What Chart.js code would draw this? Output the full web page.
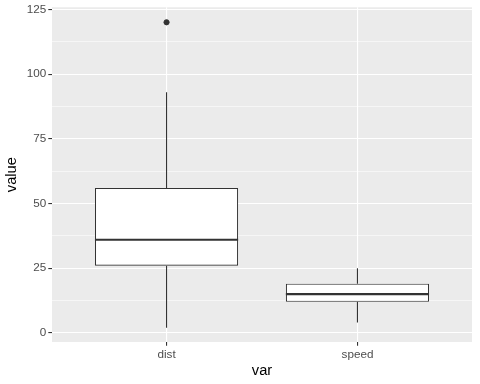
<!DOCTYPE html>
<html><head><meta charset="utf-8">
<script src="https://cdn.jsdelivr.net/npm/chart.js@4/dist/chart.umd.min.js"></script>
<style>html,body{margin:0;padding:0;background:#fff}#c{display:block}</style>
</head><body>
<div style="width:480px;height:384px"><canvas id="c" width="480" height="384"></canvas></div>
<script>
const categories = ['dist', 'speed'];
const lowerWhisker = [2, 4];
const q1 = [26, 12];
const median = [36, 15];
const q3 = [56, 19];
const upperWhisker = [93, 25];
const outliers = [[120], []];
const yTicks = [0, 25, 50, 75, 100, 125];
const yMinor = [12.5, 37.5, 62.5, 87.5, 112.5];

const boxHalf = 0.375;
const pos = categories.map((c, i) => i + 1);

const boxData = pos.map((x, i) => ({x: x, y: [q1[i], q3[i]]}));
const medData = [];
const whiskData = [];
pos.forEach((x, i) => {
  medData.push({x: x - boxHalf, y: median[i]}, {x: x + boxHalf, y: median[i]}, {x: x, y: null});
  whiskData.push({x: x, y: q3[i]}, {x: x, y: upperWhisker[i]}, {x: x, y: null});
  whiskData.push({x: x, y: lowerWhisker[i]}, {x: x, y: q1[i]}, {x: x, y: null});
});
const outData = [];
pos.forEach((x, i) => outliers[i].forEach(v => outData.push({x: x, y: v})));

const allTicks = yTicks.concat(yMinor).sort((a, b) => a - b);

const panelBg = {
  id: 'panelBg',
  beforeDraw(chart) {
    const a = chart.chartArea, ctx = chart.ctx;
    ctx.save();
    ctx.fillStyle = '#EBEBEB';
    ctx.fillRect(a.left, a.top, a.right - a.left, a.bottom - a.top);
    ctx.restore();
  }
};

new Chart(document.getElementById('c'), {
  type: 'bar',
  data: {
    datasets: [
      {type: 'line', data: whiskData, borderColor: '#333333', borderWidth: 1.1, pointRadius: 0, spanGaps: false, order: 3},
      {type: 'bar', data: boxData, backgroundColor: '#FFFFFF', borderColor: '#333333', borderWidth: 1.1, borderSkipped: false, categoryPercentage: 1, barPercentage: 0.75, order: 2},
      {type: 'line', data: medData, borderColor: '#333333', borderWidth: 2.2, pointRadius: 0, spanGaps: false, order: 1},
      {type: 'scatter', data: outData, backgroundColor: '#333333', borderColor: '#333333', pointRadius: 2.6, order: 0}
    ]
  },
  options: {
    responsive: false,
    animation: false,
    events: [],
    layout: {padding: {left: 0, right: 8, top: 7, bottom: 0}},
    plugins: {legend: {display: false}, tooltip: {enabled: false}},
    scales: {
      x: {
        type: 'linear',
        offset: false,
        min: 0.4, max: 2.6,
        afterBuildTicks: s => { s.ticks = pos.map(v => ({value: v})); },
        afterFit: s => { s.height = 42; },
        border: {display: false},
        grid: {offset: false, color: '#FFFFFF', lineWidth: 1.1, tickColor: '#333333', tickLength: 3.7, tickWidth: 1.1},
        ticks: {
          callback: (v) => categories[Math.round(v) - 1] || '',
          color: '#4D4D4D', font: {family: 'Liberation Sans', size: 11.7}, padding: 2, maxRotation: 0, autoSkip: false
        },
        title: {display: true, text: 'var', color: '#000000', font: {family: 'Liberation Sans', size: 14.67}, padding: {top: 0, bottom: 4}}
      },
      y: {
        type: 'linear',
        min: -3.5, max: 125.8,
        afterBuildTicks: s => { s.ticks = allTicks.map(v => ({value: v})); },
        afterFit: s => { s.width = 52; },
        border: {display: false},
        grid: {
          color: '#FFFFFF',
          lineWidth: c => (yTicks.includes(c.tick.value) ? 1.1 : 0.55),
          tickColor: c => (yTicks.includes(c.tick.value) ? '#333333' : 'rgba(0,0,0,0)'),
          tickLength: 3.7, tickWidth: 1.1
        },
        ticks: {
          callback: (v) => (yTicks.includes(v) ? String(v) : ''),
          color: '#4D4D4D', font: {family: 'Liberation Sans', size: 11.7, lineHeight: 0.9}, padding: 2, autoSkip: false
        },
        title: {display: true, text: 'value', color: '#000000', font: {family: 'Liberation Sans', size: 14.67}, padding: {top: 3, bottom: 0}}
      }
    }
  },
  plugins: [panelBg]
});
</script>
</body></html>
